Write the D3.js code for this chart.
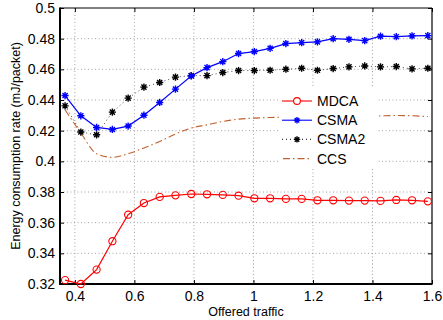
<!DOCTYPE html>
<html>
<head>
<meta charset="utf-8">
<script src="https://cdn.jsdelivr.net/npm/d3@7"></script>
<style>
  html, body { margin: 0; padding: 0; background: #fff; }
  svg { display: block; font-family: "Liberation Sans", Arial, Helvetica, sans-serif; }
</style>
</head>
<body>
<svg id="chart" width="443" height="320"></svg>
<script>
// ---- data ----
const offeredTraffic = [0.367, 0.420, 0.473, 0.526, 0.579, 0.632, 0.685, 0.738, 0.791, 0.844, 0.897, 0.950,
                        1.003, 1.056, 1.109, 1.162, 1.215, 1.268, 1.321, 1.374, 1.427, 1.480, 1.533, 1.586];
const mdca  = [0.3225, 0.3200, 0.3294, 0.3479, 0.3652, 0.3728, 0.3768, 0.3778, 0.3787, 0.3785, 0.3781, 0.3776,
               0.3759, 0.3759, 0.3755, 0.3755, 0.3746, 0.3746, 0.3744, 0.3744, 0.3742, 0.3748, 0.3746, 0.3739];
const csma  = [0.4429, 0.4297, 0.4221, 0.4208, 0.4230, 0.4301, 0.4384, 0.4471, 0.4557, 0.4611, 0.4650, 0.4703,
               0.4716, 0.4737, 0.4768, 0.4774, 0.4779, 0.4800, 0.4796, 0.4787, 0.4816, 0.4813, 0.4818, 0.4820];
const csma2 = [0.4362, 0.4191, 0.4173, 0.4321, 0.4412, 0.4484, 0.4514, 0.4549, 0.4559, 0.4559, 0.4579, 0.4592,
               0.4592, 0.4594, 0.4601, 0.4607, 0.4594, 0.4605, 0.4616, 0.4622, 0.4616, 0.4618, 0.4603, 0.4607];
const ccs   = [0.4336, 0.4185, 0.4050, 0.4026, 0.4050, 0.4087, 0.4130, 0.4178, 0.4217, 0.4238, 0.4260, 0.4275,
               0.4282, 0.4286, 0.4288, 0.4289, 0.4289, 0.4289, 0.4290, 0.4292, 0.4296, 0.4299, 0.4297, 0.4292];
const seriesNames = ["MDCA", "CSMA", "CSMA2", "CCS"];
const xTicks = [0.4, 0.6, 0.8, 1.0, 1.2, 1.4, 1.6];
const xTickLabels = ["0.4", "0.6", "0.8", "1", "1.2", "1.4", "1.6"];
const yTicks = [0.32, 0.34, 0.36, 0.38, 0.40, 0.42, 0.44, 0.46, 0.48, 0.50];
const yTickLabels = ["0.32", "0.34", "0.36", "0.38", "0.4", "0.42", "0.44", "0.46", "0.48", "0.5"];
const xLabel = "Offered traffic";
const yLabel = "Energy consumption rate (mJ/packet)";

// ---- layout ----
const L = 60, R = 432, T = 8, B = 284;
const svg = d3.select("#chart");
const x = d3.scaleLinear().domain([0.35, 1.6]).range([L, R]);
const y = d3.scaleLinear().domain([0.32, 0.5]).range([B, T]);

// grid
const grid = svg.append("g");
grid.selectAll("line.gx").data(xTicks.filter(v => v < 1.59)).enter().append("line")
  .attr("x1", d => x(d)).attr("x2", d => x(d)).attr("y1", T).attr("y2", B)
  .attr("stroke", "#8a8a8a").attr("stroke-width", 0.8).attr("stroke-dasharray", "1,2.5");
grid.selectAll("line.gy").data(yTicks.filter(v => v > 0.321 && v < 0.499)).enter().append("line")
  .attr("x1", L).attr("x2", R).attr("y1", d => y(d)).attr("y2", d => y(d))
  .attr("stroke", "#8a8a8a").attr("stroke-width", 0.8).attr("stroke-dasharray", "1,2.5");

// axes (ticks inward)
const xAxis = d3.axisBottom(x).tickValues(xTicks).tickFormat((d, i) => xTickLabels[i]).tickSizeInner(-4).tickSizeOuter(0).tickPadding(7);
const yAxis = d3.axisLeft(y).tickValues(yTicks).tickFormat((d, i) => yTickLabels[i]).tickSizeInner(-4).tickSizeOuter(0).tickPadding(5);
const gx = svg.append("g").attr("transform", `translate(0,${B})`).call(xAxis);
const gy = svg.append("g").attr("transform", `translate(${L},0)`).call(yAxis);
[gx, gy].forEach(g => {
  g.select(".domain").remove();
  g.selectAll(".tick line").attr("stroke", "#000");
  g.selectAll(".tick text").attr("font-size", 14).attr("fill", "#000")
    .attr("font-family", "'Liberation Sans', Arial, sans-serif");
});
// top/right ticks
const gxt = svg.append("g").attr("transform", `translate(0,${T})`).call(d3.axisTop(x).tickValues(xTicks).tickSizeInner(-4).tickSizeOuter(0).tickFormat(""));
const gyr = svg.append("g").attr("transform", `translate(${R},0)`).call(d3.axisRight(y).tickValues(yTicks).tickSizeInner(-4).tickSizeOuter(0).tickFormat(""));
[gxt, gyr].forEach(g => { g.select(".domain").remove(); g.selectAll(".tick line").attr("stroke", "#000"); });

// frame
svg.append("line").attr("x1", L).attr("x2", R).attr("y1", T).attr("y2", T).attr("stroke", "#000").attr("stroke-width", 1);
svg.append("line").attr("x1", R).attr("x2", R).attr("y1", T).attr("y2", B).attr("stroke", "#000").attr("stroke-width", 1.2);
svg.append("line").attr("x1", L).attr("x2", L).attr("y1", T - 0.5).attr("y2", B + 1).attr("stroke", "#000").attr("stroke-width", 2);
svg.append("line").attr("x1", L - 1).attr("x2", R + 0.5).attr("y1", B).attr("y2", B).attr("stroke", "#000").attr("stroke-width", 2);

// labels
svg.append("text").attr("x", (L + R) / 2).attr("y", 316).attr("text-anchor", "middle")
  .attr("font-size", 12.5).text(xLabel);
svg.append("text").attr("transform", `translate(20,${(T + B) / 2}) rotate(-90)`).attr("text-anchor", "middle")
  .attr("font-size", 12.5).text(yLabel);

// series
const colors = { MDCA: "#ff0000", CSMA: "#0000ff", CSMA2: "#000000", CCS: "#c0602c" };
const values = { MDCA: mdca, CSMA: csma, CSMA2: csma2, CCS: ccs };
const line = d3.line().x(d => x(d[0])).y(d => y(d[1]));
const smooth = d3.line().x(d => x(d[0])).y(d => y(d[1])).curve(d3.curveMonotoneX);
const pts = name => offeredTraffic.map((t, i) => [t, values[name][i]]);
const plot = svg.append("g");

function star(s) {
  const a = s * 0.7071;
  return `M${-s},0L${s},0M0,${-s}L0,${s}M${-a},${-a}L${a},${a}M${-a},${a}L${a},${-a}`;
}

// CCS
plot.append("path").datum(pts("CCS")).attr("d", smooth).attr("fill", "none")
  .attr("stroke", colors.CCS).attr("stroke-width", 1.1).attr("stroke-dasharray", "7,3,1.5,3");
// CSMA2
plot.append("path").datum(pts("CSMA2")).attr("d", line).attr("fill", "none")
  .attr("stroke", "#333").attr("stroke-width", 0.9).attr("stroke-dasharray", "1,3");
plot.selectAll("path.s2").data(pts("CSMA2")).enter().append("path")
  .attr("transform", d => `translate(${x(d[0])},${y(d[1])})`).attr("d", star(3.6))
  .attr("stroke", colors.CSMA2).attr("stroke-width", 1.4).attr("fill", "none");
// CSMA
plot.append("path").datum(pts("CSMA")).attr("d", line).attr("fill", "none")
  .attr("stroke", colors.CSMA).attr("stroke-width", 1.2);
plot.selectAll("path.s1").data(pts("CSMA")).enter().append("path")
  .attr("transform", d => `translate(${x(d[0])},${y(d[1])})`).attr("d", star(3.6))
  .attr("stroke", colors.CSMA).attr("stroke-width", 1.4).attr("fill", "none");
// MDCA
plot.append("path").datum(pts("MDCA")).attr("d", line).attr("fill", "none")
  .attr("stroke", colors.MDCA).attr("stroke-width", 1.2);
plot.selectAll("circle.m").data(pts("MDCA")).enter().append("circle")
  .attr("cx", d => x(d[0])).attr("cy", d => y(d[1])).attr("r", 3.6)
  .attr("fill", "none").attr("stroke", colors.MDCA).attr("stroke-width", 1.1);

// legend (white box, no border)
const lg = svg.append("g");
lg.append("rect").attr("x", 280).attr("y", 86).attr("width", 97).attr("height", 82).attr("fill", "#fff");
const lx0 = 282, lx1 = 312, lxm = 297, ltx = 317, ly0 = 101, ldy = 19.2;
seriesNames.forEach((name, i) => {
  const yy = ly0 + i * ldy;
  const stroke = colors[name];
  const ln = lg.append("line").attr("x1", lx0).attr("x2", lx1).attr("y1", yy).attr("y2", yy)
    .attr("stroke", name === "CSMA2" ? "#333" : stroke).attr("stroke-width", 1.1);
  if (name === "CSMA2") ln.attr("stroke-dasharray", "1,3");
  if (name === "CCS") ln.attr("stroke-dasharray", "7,3,1.5,3").attr("x1", lx0 + 1);
  if (name === "MDCA") lg.append("circle").attr("cx", lxm).attr("cy", yy).attr("r", 3.4)
    .attr("fill", "#fff").attr("stroke", stroke).attr("stroke-width", 1.1);
  if (name === "CSMA" || name === "CSMA2") lg.append("path").attr("transform", `translate(${lxm},${yy})`)
    .attr("d", star(3.2)).attr("stroke", stroke).attr("stroke-width", 1.4).attr("fill", "none");
  lg.append("text").attr("x", ltx).attr("y", yy).attr("dy", "0.36em").attr("font-size", 14).text(name);
});
</script>
</body>
</html>
